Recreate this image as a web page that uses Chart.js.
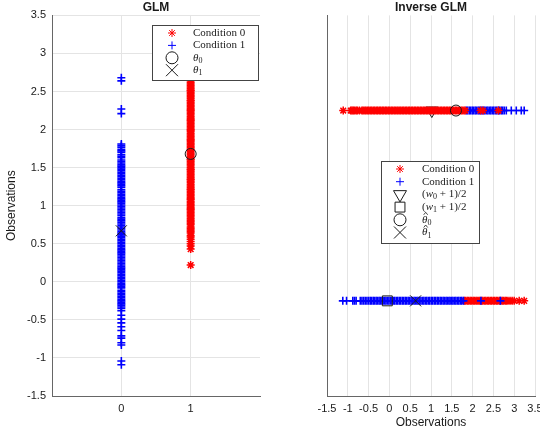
<!DOCTYPE html>
<html>
<head>
<meta charset="utf-8">
<script src="https://cdn.jsdelivr.net/npm/chart.js@4.4.1/dist/chart.umd.min.js"></script>
<style>
    html, body { margin: 0; padding: 0; background: #fff; }
    #wrap { position: relative; width: 540px; height: 433px; overflow: hidden; }
    canvas { position: absolute; top: 0; }
    #glm { left: 0; }
    #inv { left: 270px; }
</style>
</head>
<body>
<div id="wrap">
    <canvas id="glm" width="270" height="433"></canvas>
    <canvas id="inv" width="280" height="433"></canvas>
</div>
<script>
// GLM: observations per condition (condition 0 sits at x = 1, condition 1 at x = 0)
const glmCond0 = [
    3.21, 3.19, 3.17, 3.16, 3.14, 3.12, 3.10, 3.08, 3.06, 3.04, 3.03, 3.01, 2.99, 2.97, 2.95, 2.93, 2.91, 2.90, 2.88, 2.86,
    2.84, 2.82, 2.80, 2.78, 2.77, 2.75, 2.73, 2.71, 2.69, 2.67, 2.65, 2.64, 2.62, 2.60, 2.58, 2.56, 2.54, 2.52, 2.51, 2.49,
    2.47, 2.45, 2.43, 2.41, 2.39, 2.38, 2.36, 2.34, 2.32, 2.30, 2.28, 2.26, 2.25, 2.23, 2.21, 2.19, 2.17, 2.15, 2.13, 2.12,
    2.10, 2.08, 2.06, 2.04, 2.02, 2.00, 1.99, 1.97, 1.95, 1.93, 1.91, 1.89, 1.87, 1.86, 1.84, 1.82, 1.80, 1.78, 1.76, 1.74,
    1.73, 1.71, 1.69, 1.67, 1.65, 1.63, 1.61, 1.60, 1.58, 1.56, 1.54, 1.52, 1.50, 1.48, 1.47, 1.45, 1.43, 1.41, 1.39, 1.37,
    1.35, 1.34, 1.32, 1.30, 1.28, 1.26, 1.24, 1.22, 1.21, 1.19, 1.17, 1.15, 1.13, 1.11, 1.09, 1.08, 1.06, 1.04, 1.02, 1.00,
    0.98, 0.96, 0.95, 0.93, 0.91, 0.89, 0.87, 0.85, 0.83, 0.81, 0.79, 0.77, 0.75,
    0.72, 0.70, 0.68, 0.66, 0.64, 0.61, 0.59, 0.56, 0.53, 0.50, 0.47, 0.43, 0.22
];
const glmCond1 = [
    2.68, 2.64, 2.27, 2.21,
    1.81, 1.79, 1.77, 1.74, 1.72, 1.70, 1.67, 1.65, 1.63, 1.60, 1.58, 1.56,
    1.54, 1.52, 1.50, 1.48, 1.46, 1.44, 1.42, 1.40, 1.38, 1.36, 1.34, 1.32, 1.30, 1.28, 1.26, 1.24, 1.21, 1.19, 1.17, 1.15,
    1.13, 1.11, 1.09, 1.07, 1.05, 1.03, 1.01, 0.99, 0.97, 0.95, 0.93, 0.91, 0.89, 0.87, 0.84, 0.82, 0.80, 0.78, 0.76, 0.74,
    0.72, 0.70, 0.68, 0.66, 0.64, 0.62, 0.60, 0.58, 0.56, 0.54, 0.52, 0.50, 0.48, 0.46, 0.44, 0.42, 0.40, 0.38, 0.36, 0.34,
    0.32, 0.30, 0.28, 0.26, 0.24, 0.22, 0.20, 0.18, 0.16, 0.14, 0.12, 0.10, 0.08, 0.06, 0.04, 0.02, 0.00, -0.02, -0.04, -0.06,
    -0.08, -0.11, -0.13, -0.15, -0.17, -0.19, -0.21, -0.23, -0.25, -0.27, -0.29, -0.31, -0.33, -0.35, -0.38,
    -0.44, -0.49, -0.54, -0.59, -0.64, -0.71, -0.74, -0.80, -0.83, -1.04, -1.09
];
const glmTheta = [1.68, 0.67];          // theta_0, theta_1
const glmTicksX = [0, 1];

// Inverse GLM: upper row (y = 1) and lower row (y = 0)
const invRows = [1, 0];
const invTopCond0 = [
    -1.11, -0.93, -0.90, -0.87, -0.84, -0.80, -0.77, -0.72,
    -0.66, -0.63, -0.59, -0.56, -0.52, -0.49, -0.45, -0.42, -0.38, -0.35, -0.31, -0.28, -0.24, -0.21, -0.17, -0.14, -0.10, -0.07, -0.03, 0.00,
    0.04, 0.07, 0.11, 0.14, 0.18, 0.21, 0.25, 0.28, 0.32, 0.35, 0.39, 0.42, 0.46, 0.49, 0.53, 0.56, 0.60, 0.63, 0.67, 0.70,
    0.74, 0.77, 0.81, 0.84, 0.88, 0.91, 0.95, 0.98, 1.02, 1.05, 1.09, 1.12, 1.16, 1.19, 1.23, 1.26, 1.30, 1.33, 1.37, 1.40,
    1.44, 1.47, 1.51, 1.54, 1.58, 1.61, 1.65, 1.68, 1.72, 1.75, 1.79, 1.82,
    2.19, 2.25, 2.62
];
const invTopCond1 = [
    1.85, 1.88, 1.92, 1.95, 1.99, 2.02, 2.06, 2.09, 2.13, 2.16, 2.20, 2.23, 2.27, 2.30, 2.34, 2.37, 2.41, 2.44, 2.48, 2.51,
    2.55, 2.58, 2.62, 2.65, 2.69, 2.72, 2.76, 2.81, 2.93, 3.05, 3.17, 3.24
];
const invBottomCond0 = [
    1.80, 1.83, 1.87, 1.90, 1.94, 1.97, 2.01, 2.04, 2.08, 2.11, 2.15, 2.18, 2.22, 2.25, 2.29, 2.32, 2.36, 2.39, 2.43, 2.46,
    2.50, 2.53, 2.57, 2.60, 2.64, 2.67, 2.71, 2.74, 2.78, 2.81, 2.85, 2.90, 2.95, 3.00, 3.12, 3.24
];
const invBottomCond1 = [
    -1.12, -1.03, -0.88, -0.84, -0.80, -0.70, -0.66, -0.62, -0.58, -0.54, -0.50,
    -0.46, -0.43, -0.39, -0.36, -0.32, -0.29, -0.25, -0.22, -0.18, -0.15, -0.11, -0.08, -0.04, -0.01, 0.03, 0.06, 0.10, 0.13, 0.17, 0.20,
    0.24, 0.27, 0.31, 0.34, 0.38, 0.41, 0.45, 0.48, 0.52, 0.55, 0.59, 0.62, 0.66, 0.69, 0.73, 0.76, 0.80, 0.83, 0.87, 0.90,
    0.94, 0.97, 1.01, 1.04, 1.08, 1.11, 1.15, 1.18, 1.22, 1.25, 1.29, 1.32, 1.36, 1.39, 1.43, 1.46, 1.50, 1.53, 1.57, 1.60,
    1.64, 1.67, 1.71, 1.74, 1.78,
    2.20, 2.67
];
const invWHalf = [1.02, -0.05];         // (w_0+1)/2, (w_1+1)/2
const invThetaHat = [1.60, 0.63];       // theta-hat_0, theta-hat_1

const RED = '#ff0000';
const BLUE = '#0000ff';
const INK = '#1a1a1a';
const GRID = '#e4e4e4';
const AXIS = '#666666';
const SANS = "'Liberation Sans', Arial, sans-serif";
const SERIF = "'Liberation Serif', 'Times New Roman', serif";

function column(values, x) {
    return values.map(v => ({ x, y: v }));
}
function row(values, y) {
    return values.map(v => ({ x: v, y }));
}

function markers(label, data, style, color, radius, width, extra) {
    return Object.assign({
        label,
        data,
        pointStyle: style,
        pointRadius: radius,
        pointHoverRadius: radius,
        borderColor: color,
        backgroundColor: 'rgba(0,0,0,0)',
        pointBorderWidth: width,
        showLine: false
    }, extra || {});
}

// legend text: list of runs, italic and subscript pieces, optional hat
function drawRuns(ctx, runs, x, y) {
    let cx = x;
    runs.forEach(r => {
        const size = r.sub ? 8 : 11;
        ctx.font = `${r.it ? 'italic ' : ''}${size}px ${SERIF}`;
        ctx.fillStyle = INK;
        ctx.textBaseline = 'middle';
        ctx.textAlign = 'left';
        const dy = r.sub ? 3 : 0;
        ctx.fillText(r.t, cx, y + dy);
        const w = ctx.measureText(r.t).width;
        if (r.hat) {
            // circumflex accent over the theta
            const hx = cx + w / 2 + 1;
            ctx.strokeStyle = INK;
            ctx.lineWidth = 0.8;
            ctx.beginPath();
            ctx.moveTo(hx - 2, y - 5);
            ctx.lineTo(hx, y - 7.5);
            ctx.lineTo(hx + 2, y - 5);
            ctx.stroke();
        }
        cx += w;
    });
}

function drawLegend(chart, box, items) {
    const ctx = chart.ctx;
    ctx.save();
    ctx.fillStyle = '#fff';
    ctx.fillRect(box.x, box.y, box.w, box.h);
    ctx.strokeStyle = '#444';
    ctx.lineWidth = 1;
    ctx.strokeRect(box.x + 0.5, box.y + 0.5, box.w, box.h);
    items.forEach((it, i) => {
        const y = box.y + box.first + i * box.step;
        ctx.strokeStyle = it.color;
        ctx.fillStyle = 'rgba(0,0,0,0)';
        ctx.lineWidth = 1;
        Chart.helpers.drawPoint(ctx, {
            pointStyle: it.style,
            rotation: it.rotation || 0,
            radius: it.radius,
            borderWidth: 1
        }, box.x + box.markerX, y);
        drawRuns(ctx, it.runs, box.x + box.textX, y);
    });
    ctx.restore();
}

const tickFont = { family: SANS, size: 11 };
const tickLabel = v => String(v);

function baseScales(xOpts, yOpts) {
    return {
        x: Object.assign({
            type: 'linear',
            grid: { color: GRID, drawTicks: false },
            border: { color: AXIS },
            ticks: { font: tickFont, color: INK, padding: 6, maxRotation: 0, minRotation: 0, autoSkip: false, callback: tickLabel },
            afterFit: s => { s.height = 37; }
        }, xOpts),
        y: Object.assign({
            type: 'linear',
            grid: { color: GRID, drawTicks: false },
            border: { color: AXIS }
        }, yOpts)
    };
}

function titleOpts(text) {
    return {
        display: true,
        text,
        fullSize: false,
        color: INK,
        font: { family: SANS, size: 12, weight: 'bold' },
        padding: { top: 0, bottom: 1 }
    };
}

const glmLegend = {
    id: 'glmLegend',
    afterDatasetsDraw(chart) {
        drawLegend(chart, { x: 152, y: 25, w: 106, h: 55, first: 8, step: 12.4, markerX: 20, textX: 41 }, [
            { style: 'star', color: RED, radius: 4, runs: [{ t: 'Condition 0' }] },
            { style: 'cross', color: BLUE, radius: 4, runs: [{ t: 'Condition 1' }] },
            { style: 'circle', color: INK, radius: 6, runs: [{ t: '\u03B8', it: true }, { t: '0', sub: true }] },
            { style: 'crossRot', color: INK, radius: 8.5, runs: [{ t: '\u03B8', it: true }, { t: '1', sub: true }] }
        ]);
    }
};

const invLegend = {
    id: 'invLegend',
    afterDatasetsDraw(chart) {
        drawLegend(chart, { x: 111, y: 161, w: 98, h: 82, first: 8, step: 12.7, markerX: 19, textX: 41 }, [
            { style: 'star', color: RED, radius: 4, runs: [{ t: 'Condition 0' }] },
            { style: 'cross', color: BLUE, radius: 4, runs: [{ t: 'Condition 1' }] },
            { style: 'triangle', rotation: 180, color: INK, radius: 7.5, runs: [{ t: '(' }, { t: 'w', it: true }, { t: '0', sub: true }, { t: ' + 1)/2' }] },
            { style: 'rect', color: INK, radius: 7, runs: [{ t: '(' }, { t: 'w', it: true }, { t: '1', sub: true }, { t: ' + 1)/2' }] },
            { style: 'circle', color: INK, radius: 6, runs: [{ t: '\u03B8', it: true, hat: true }, { t: '0', sub: true }] },
            { style: 'crossRot', color: INK, radius: 8.5, runs: [{ t: '\u03B8', it: true, hat: true }, { t: '1', sub: true }] }
        ]);
    }
};

new Chart(document.getElementById('glm'), {
    type: 'scatter',
    data: {
        datasets: [
            markers('\u03B8_0', [{ x: 1, y: glmTheta[0] }], 'circle', INK, 5.5, 1),
            markers('\u03B8_1', [{ x: 0, y: glmTheta[1] }], 'crossRot', INK, 7.8, 1),
            markers('Condition 0', column(glmCond0, 1), 'star', RED, 4, 1.5),
            markers('Condition 1', column(glmCond1, 0), 'cross', BLUE, 4, 1.6)
        ]
    },
    options: {
        responsive: false,
        animation: false,
        layout: { padding: { left: 0, right: 10, top: 0, bottom: 0 } },
        plugins: {
            legend: { display: false },
            tooltip: { enabled: false },
            title: titleOpts('GLM')
        },
        scales: baseScales(
            {
                min: -1, max: 2,
                afterBuildTicks: s => { s.ticks = glmTicksX.map(v => ({ value: v })); }
            },
            {
                min: -1.5, max: 3.5,
                ticks: { stepSize: 0.5, font: tickFont, color: INK, padding: 6, callback: tickLabel },
                title: { display: true, text: 'Observations', color: INK, font: { family: SANS, size: 12 }, padding: { top: 4, bottom: 4 } },
                afterFit: s => { s.width = 52; }
            }
        )
    },
    plugins: [glmLegend]
});

new Chart(document.getElementById('inv'), {
    type: 'scatter',
    data: {
        datasets: [
            markers('\u03B8\u0302_0', [{ x: invThetaHat[0], y: invRows[0] }], 'circle', INK, 5.5, 1),
            markers('\u03B8\u0302_1', [{ x: invThetaHat[1], y: invRows[1] }], 'crossRot', INK, 7.8, 1),
            markers('(w_1+1)/2', [{ x: invWHalf[1], y: invRows[1] }], 'rect', INK, 7, 1),
            markers('Condition 1', row(invBottomCond1, invRows[1]), 'cross', BLUE, 4, 1.6),
            markers('Condition 0', row(invBottomCond0, invRows[1]), 'star', RED, 4, 1.5),
            markers('Condition 0', row(invTopCond0, invRows[0]), 'star', RED, 4, 1.5),
            markers('(w_0+1)/2', [{ x: invWHalf[0], y: invRows[0] }], 'triangle', INK, 7, 1, { pointRotation: 180 }),
            markers('Condition 1', row(invTopCond1, invRows[0]), 'cross', BLUE, 4, 1.6)
        ]
    },
    options: {
        responsive: false,
        animation: false,
        layout: { padding: { left: 0, right: 15, top: 0, bottom: 0 } },
        plugins: {
            legend: { display: false },
            tooltip: { enabled: false },
            title: titleOpts('Inverse GLM')
        },
        scales: baseScales(
            {
                min: -1.5, max: 3.5,
                ticks: { stepSize: 0.5, font: tickFont, color: INK, padding: 6, maxRotation: 0, minRotation: 0, autoSkip: false, callback: tickLabel },
                title: { display: true, text: 'Observations', color: INK, font: { family: SANS, size: 12 }, padding: { top: 2, bottom: 3 } }
            },
            {
                min: -0.5, max: 1.5,
                grid: { display: false },
                ticks: { display: false },
                afterFit: s => { s.width = 57; }
            }
        )
    },
    plugins: [invLegend]
});
</script>
</body>
</html>
